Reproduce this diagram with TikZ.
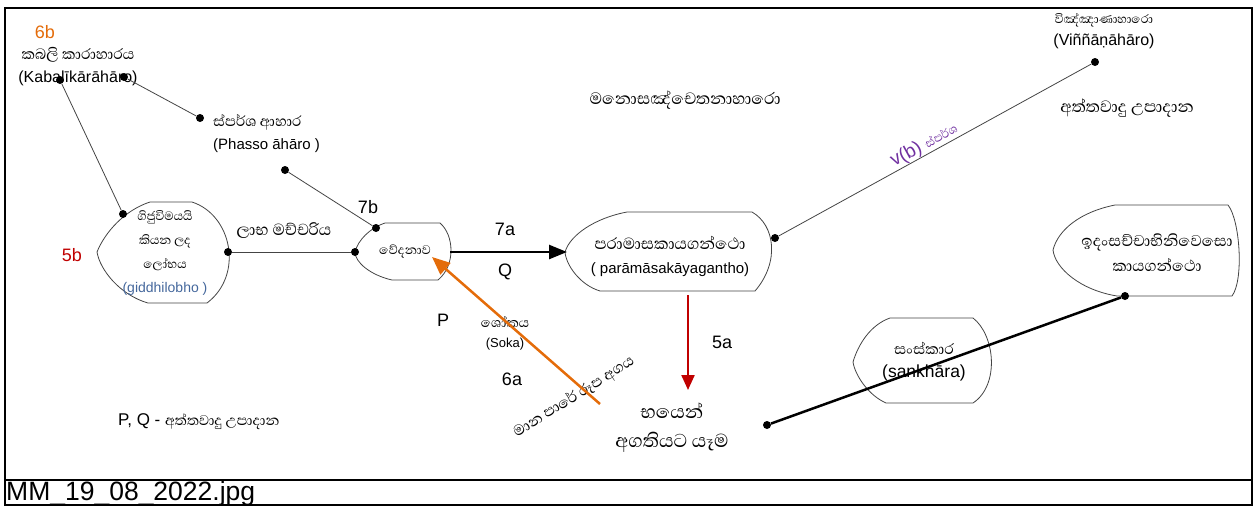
\documentclass[tikz,border=0pt]{standalone}
\usepackage{fontspec}
\setmainfont{Liberation Sans}
\newfontfamily\sifont[Script=Sinhala]{Abhaya Libre}
\usetikzlibrary{arrows.meta}
\definecolor{orangea}{HTML}{E46C0A}
\definecolor{reda}{HTML}{C00000}
\definecolor{bluea}{HTML}{44679C}
\definecolor{purplea}{HTML}{7030A0}
\definecolor{linegray}{HTML}{444444}
\tikzset{
  num/.style={font=\fontsize{18}{20}\selectfont, inner sep=0},
  txt/.style={font=\fontsize{15}{23}\selectfont, align=center, inner sep=0},
  dot/.style={circle, fill=black, inner sep=0, minimum size=8pt},
  shp/.style={draw=linegray, line width=0.8pt},
  thin/.style={draw=linegray, line width=0.8pt}
}

\begin{document}
\begin{tikzpicture}[x=1pt,y=-1pt]
\useasboundingbox (0,0) rectangle (1257,507);
\draw [line width=2pt] (5,8) rectangle (1252,505);
\draw [line width=1.5pt] (5,480) -- (1252,480);
\node [anchor=west, font=\fontsize{26.5}{30}\selectfont, inner sep=0] (cap) at (6,494) {MM\_19\_08\_2022.jpg};

\draw [shp] (150,202) -- (192,202) .. controls (232,215) and (244,275) .. (207,303) -- (148,303) .. controls (120,295) and (100,270) .. (97,252) .. controls (105,232) and (125,210) .. cycle;
\draw [shp] (385,223) -- (440,223) .. controls (454,235) and (456,265) .. (438,280) -- (392,280) .. controls (370,275) and (355,262) .. (355,252) .. controls (358,240) and (370,228) .. cycle;
\draw [shp] (627,212) -- (752,212) .. controls (775,225) and (780,262) .. (755,291) -- (600,291) .. controls (580,285) and (566,265) .. (565,252) .. controls (570,235) and (595,218) .. cycle;
\draw [shp] (890,318) -- (973,318) .. controls (995,335) and (1000,385) .. (973,403) -- (886,403) .. controls (868,395) and (855,375) .. (853,362) .. controls (858,345) and (870,325) .. cycle;
\draw [shp] (1115,205) -- (1228,205) .. controls (1240,220) and (1244,280) .. (1232,296) -- (1117,296) .. controls (1080,290) and (1055,268) .. (1053,250) .. controls (1058,230) and (1080,212) .. cycle;

\node [num, text=orangea] (n6b) at (45,32) {6b};
\node [txt] (kab) at (78,67) {{\sifont\fontsize{19}{20}\selectfont කබලි කාරාහාරය}\\{\fontsize{16}{18}\selectfont(Kabalīkārāhāro)}};
\node [txt, anchor=west, align=left] (pha) at (213,134) {{\sifont\fontsize{18.5}{20}\selectfont ස්පර්ශ ආහාර}\\(Phasso āhāro )};
\node [num] (n7b) at (368,207) {7b};
\node [txt, font=\fontsize{15.5}{24}\selectfont\sifont] (gij) at (165,253) {ගිජුවිමයයි\\කියන ලද\\ලෝභය\\{\rmfamily\fontsize{14}{16}\selectfont\color{bluea}(giddhilobho )}};
\node [num, text=reda] (n5b) at (72,255) {5b};
\node [txt, font=\fontsize{20.5}{22}\selectfont\sifont] (lab) at (284,231) {ලාභ මච්චරිය};
\node [txt, font=\fontsize{16}{18}\selectfont\sifont] (ved) at (405,252) {වේදනාව};
\node [num] (n7a) at (505,229) {7a};
\node [num] (q) at (505,272) {Q};
\node [txt, font=\fontsize{15}{24}\selectfont] (par) at (670,256) {{\sifont\fontsize{20.5}{22}\selectfont පරාමාසකායගන්ථො}\\( parāmāsakāyagantho)};
\node [num] (p) at (443,320) {P};
\node [txt, font=\fontsize{13}{20}\selectfont] (sok) at (505,333) {{\sifont\fontsize{17}{18}\selectfont ශෝකය}\\(Soka)};
\node [num] (n6a) at (512,379) {6a};
\node [txt, font=\fontsize{19}{20}\selectfont\sifont, rotate=32] (man) at (574,397) {මාන පාරේ රූප අගය};
\node [num] (n5a) at (722,342) {5a};
\node [txt, font=\fontsize{24}{29}\selectfont\sifont] (bha) at (672,428) {භයෙන්\\අගතියට යෑම};
\node [txt, font=\fontsize{21}{22}\selectfont\sifont] (man2) at (685,100) {මනොසඤ්චෙතනාහාරො};
\node [txt, font=\fontsize{16}{22}\selectfont] (vin) at (1104,31) {{\sifont\fontsize{15.5}{18}\selectfont විඤ්ඤාණාහාරො}\\(Viññāṇāhāro)};
\node [txt, font=\fontsize{21}{22}\selectfont\sifont] (att) at (1127,108) {අත්තවාදු උපාදාන};
\node [txt] (sam) at (924,362) {{\sifont\fontsize{19}{20}\selectfont සංස්කාර}\\{\fontsize{17.5}{20}\selectfont (sankhāra)}};
\node [txt, font=\fontsize{20}{25}\selectfont\sifont] (ida) at (1157,253) {ඉදංසච්චාභිනිවෙසො\\කායගන්ථො};
\node [anchor=west, inner sep=0] (pq) at (118,422) {\fontsize{17}{20}\selectfont P, Q - {\sifont\fontsize{18}{20}\selectfont අත්තවාදු උපාදාන}};

\node [dot] (k1) at (60,80) {};
\node [dot] (k2) at (124,77) {};
\node [dot] (ph1) at (200,118) {};
\node [dot] (ph2) at (285,170) {};
\node [dot] (g1) at (123,214) {};
\node [dot] (g2) at (228,252) {};
\node [dot] (v1) at (376,228) {};
\node [dot] (v2) at (355,252) {};
\node [dot] (m2) at (775,238) {};
\node [dot] (vn) at (1095,62) {};
\node [dot] (e1) at (767,425) {};
\node [dot] (i1) at (1125,296) {};
\coordinate (v3) at (450,252);
\coordinate (m1) at (567,252);
\coordinate (m3) at (688,295);
\coordinate (b1) at (688,390);
\coordinate (s1) at (600,404);
\coordinate (v4) at (432,257);

\draw [thin] (k2) -- (ph1);
\draw [thin] (k1) -- (g1);
\draw [thin] (ph2) -- (v1);
\draw [thin] (g2) -- (v2);
\draw [thin] (m2) -- node [pos=0.48, sloped, above, inner sep=0.5pt, text=purplea] {\fontsize{19}{20}\selectfont v(b) {\sifont\fontsize{15}{16}\selectfont ස්පර්ශ}} (vn);
\draw [line width=2.5pt, -{Triangle[length=18pt,width=14pt]}] (v3) -- (m1);
\draw [line width=2.2pt, reda, -{Triangle[length=15pt,width=13pt]}] (m3) -- (b1);
\draw [line width=2.5pt, orangea, -{Triangle[length=18pt,width=15pt]}] (s1) -- (v4);
\draw [line width=2.5pt] (e1) -- (i1);
\end{tikzpicture}
\end{document}
